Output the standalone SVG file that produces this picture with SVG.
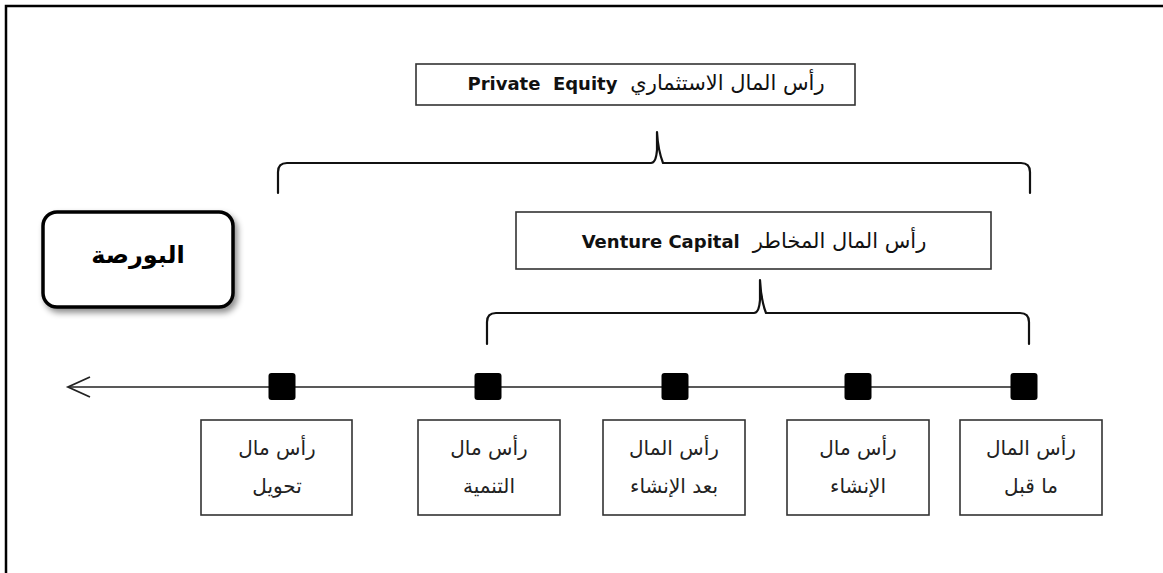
<svg xmlns="http://www.w3.org/2000/svg" width="1163" height="573" viewBox="0 0 1163 573">
<style>
.box{fill:#fff;stroke:#333;stroke-width:1.6}
.brace{fill:none;stroke:#111;stroke-width:2.2;stroke-linecap:round;stroke-linejoin:round}
.hd{font-family:"DejaVu Sans",sans-serif;fill:#111;white-space:pre}
.ar{font-weight:normal;font-size:21px}
.en{font-weight:bold;font-size:18px}
.lb{font-family:"DejaVu Sans",sans-serif;font-size:20px;fill:#222}
.sq{fill:#000}
</style>
<defs>
<filter id="sh" x="-20%" y="-20%" width="150%" height="150%">
<feDropShadow dx="3" dy="4" stdDeviation="3" flood-color="#000" flood-opacity="0.45"/>
</filter>
</defs>
<rect width="1163" height="573" fill="#fff"/>
<path d="M6,573 V6 H1163" fill="none" stroke="#000" stroke-width="2.5"/>
<g id="pe">
<rect class="box" x="416" y="64" width="439" height="41"/>
<text class="hd" x="646" y="90" text-anchor="middle" direction="rtl" xml:space="preserve"><tspan class="ar">رأس المال الاستثماري </tspan><tspan class="en"> Private  Equity</tspan></text>
</g>
<g id="vc">
<rect class="box" x="516" y="212" width="475" height="57"/>
<text class="hd" x="754" y="248" text-anchor="middle" direction="rtl" xml:space="preserve"><tspan class="ar">رأس المال المخاطر </tspan><tspan class="en"> Venture Capital</tspan></text>
</g>
<g id="bourse">
<rect x="43" y="212" width="190" height="95" rx="14" fill="#fff" stroke="#000" stroke-width="3.5" filter="url(#sh)"/>
<text x="138" y="263" text-anchor="middle" font-family="'DejaVu Sans',sans-serif" font-weight="bold" font-size="24" fill="#000">البورصة</text>
</g>
<g id="connectors">
<path class="brace" d="M278,193 V172 Q278,163 287,163 H651 Q656,163 657,150 V132 Q658,150 663,163 H1021 Q1030,163 1030,172 V193"/>
<path class="brace" d="M487,344 V322 Q487,313 496,313 H754 Q759,313 760,300 V280 Q761,300 766,313 H1020 Q1029,313 1029,322 V344"/>
<line x1="68" y1="387" x2="1024" y2="387" stroke="#222" stroke-width="1.6"/>
<path d="M90,377 L68,387 L90,397" fill="none" stroke="#222" stroke-width="1.8"/>
</g>
<g id="n1">
<rect class="sq" x="268.5" y="373" width="27" height="27" rx="3"/>
<rect class="box" x="201" y="420" width="151" height="95"/>
<text class="lb" x="277" y="455" text-anchor="middle">رأس مال</text>
<text class="lb" x="277" y="493" text-anchor="middle">تحويل</text>
</g>
<g id="n2">
<rect class="sq" x="474.5" y="373" width="27" height="27" rx="3"/>
<rect class="box" x="418" y="420" width="142" height="95"/>
<text class="lb" x="489" y="455" text-anchor="middle">رأس مال</text>
<text class="lb" x="489" y="493" text-anchor="middle">التنمية</text>
</g>
<g id="n3">
<rect class="sq" x="661.5" y="373" width="27" height="27" rx="3"/>
<rect class="box" x="603" y="420" width="142" height="95"/>
<text class="lb" x="674" y="455" text-anchor="middle">رأس المال</text>
<text class="lb" x="674" y="493" text-anchor="middle">بعد الإنشاء</text>
</g>
<g id="n4">
<rect class="sq" x="844.5" y="373" width="27" height="27" rx="3"/>
<rect class="box" x="787" y="420" width="142" height="95"/>
<text class="lb" x="858" y="455" text-anchor="middle">رأس مال</text>
<text class="lb" x="858" y="493" text-anchor="middle">الإنشاء</text>
</g>
<g id="n5">
<rect class="sq" x="1010.5" y="373" width="27" height="27" rx="3"/>
<rect class="box" x="960" y="420" width="142" height="95"/>
<text class="lb" x="1031" y="455" text-anchor="middle">رأس المال</text>
<text class="lb" x="1031" y="493" text-anchor="middle">ما قبل</text>
</g>
</svg>
